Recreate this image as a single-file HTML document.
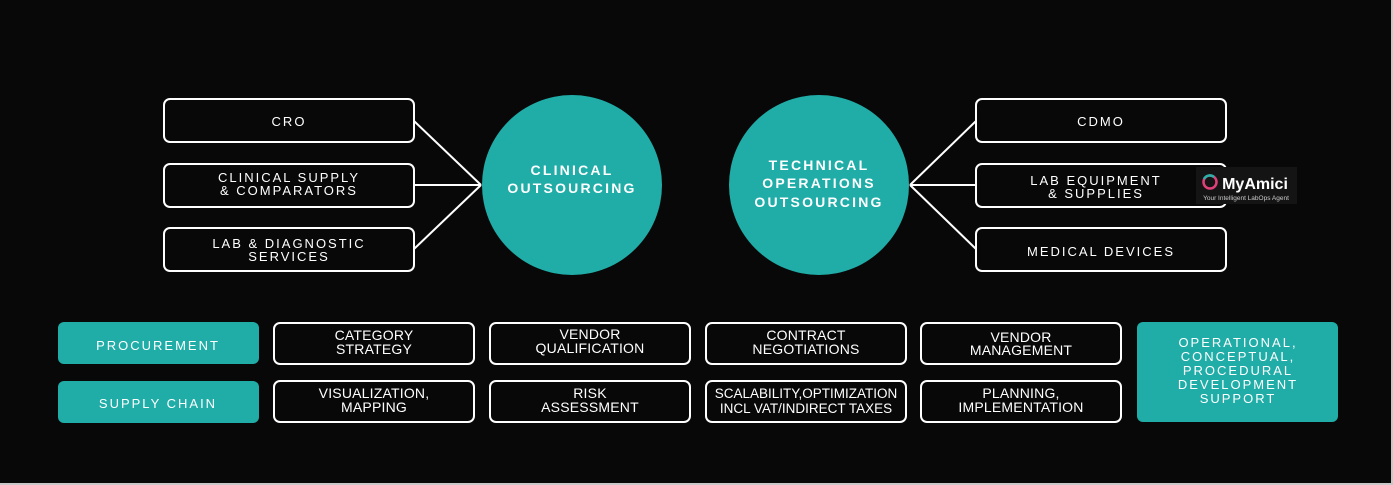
<!DOCTYPE html>
<html><head><meta charset="utf-8"><style>
html,body{margin:0;padding:0;background:#080808}
svg{display:block}
text{font-family:"Liberation Sans",sans-serif;fill:#fff;text-anchor:middle}
.sp{letter-spacing:2px;font-size:13px}
.tl{letter-spacing:2.2px;font-size:14px;font-weight:bold}
.sm{font-size:14px;letter-spacing:0.2px}
</style></head><body>
<svg width="1393" height="485" viewBox="0 0 1393 485">
<rect x="0" y="0" width="1393" height="485" fill="#c8c8c8"/>
<rect x="0" y="0" width="1391" height="483" fill="#080808"/>
<g fill="none" stroke="#fff" stroke-width="2">
<rect x="164" y="99" width="250" height="43" rx="6"/>
<rect x="164" y="164" width="250" height="43" rx="6"/>
<rect x="164" y="228" width="250" height="43" rx="6"/>
<rect x="976" y="99" width="250" height="43" rx="6"/>
<rect x="976" y="164" width="250" height="43" rx="6"/>
<rect x="976" y="228" width="250" height="43" rx="6"/>
<line x1="414" y1="121" x2="481" y2="185"/>
<line x1="414" y1="185" x2="481" y2="185"/>
<line x1="414" y1="249" x2="481" y2="185"/>
<line x1="910" y1="185" x2="976" y2="121"/>
<line x1="910" y1="185" x2="976" y2="185"/>
<line x1="910" y1="185" x2="976" y2="249"/>
<rect x="274" y="323" width="200" height="41" rx="6"/>
<rect x="490" y="323" width="200" height="41" rx="6"/>
<rect x="706" y="323" width="200" height="41" rx="6"/>
<rect x="921" y="323" width="200" height="41" rx="6"/>
<rect x="274" y="381" width="200" height="41" rx="6"/>
<rect x="490" y="381" width="200" height="41" rx="6"/>
<rect x="706" y="381" width="200" height="41" rx="6"/>
<rect x="921" y="381" width="200" height="41" rx="6"/>
</g>
<circle cx="572" cy="185" r="90" fill="#20ADA8"/>
<circle cx="819" cy="185" r="90" fill="#20ADA8"/>
<rect x="58" y="322" width="201" height="42" rx="6" fill="#20ADA8"/>
<rect x="58" y="381" width="201" height="42" rx="6" fill="#20ADA8"/>
<rect x="1137" y="322" width="201" height="100" rx="6" fill="#20ADA8"/>
<text class="sp" x="289" y="126">CRO</text>
<text class="sp" x="289" y="182">CLINICAL SUPPLY</text>
<text class="sp" x="289" y="195">&amp; COMPARATORS</text>
<text class="sp" x="289" y="248">LAB &amp; DIAGNOSTIC</text>
<text class="sp" x="289" y="261">SERVICES</text>
<text class="sp" x="1101" y="126">CDMO</text>
<text class="sp" x="1096" y="185">LAB EQUIPMENT</text>
<text class="sp" x="1096" y="198">&amp; SUPPLIES</text>
<text class="sp" x="1101" y="256">MEDICAL DEVICES</text>
<text class="tl" x="572" y="175">CLINICAL</text>
<text class="tl" x="572" y="193">OUTSOURCING</text>
<text class="tl" x="819" y="170">TECHNICAL</text>
<text class="tl" x="819" y="188">OPERATIONS</text>
<text class="tl" x="819" y="207">OUTSOURCING</text>
<text class="sp" x="158" y="350">PROCUREMENT</text>
<text class="sp" x="158" y="408">SUPPLY CHAIN</text>
<text class="sp" x="1238" y="347">OPERATIONAL,</text>
<text class="sp" x="1238" y="361">CONCEPTUAL,</text>
<text class="sp" x="1238" y="375">PROCEDURAL</text>
<text class="sp" x="1238" y="389">DEVELOPMENT</text>
<text class="sp" x="1238" y="403">SUPPORT</text>
<text class="sm" x="374" y="340">CATEGORY</text>
<text class="sm" x="374" y="354">STRATEGY</text>
<text class="sm" x="590" y="339">VENDOR</text>
<text class="sm" x="590" y="353">QUALIFICATION</text>
<text class="sm" x="806" y="340">CONTRACT</text>
<text class="sm" x="806" y="354">NEGOTIATIONS</text>
<text class="sm" x="1021" y="342">VENDOR</text>
<text class="sm" x="1021" y="355">MANAGEMENT</text>
<text class="sm" x="374" y="398">VISUALIZATION,</text>
<text class="sm" x="374" y="412">MAPPING</text>
<text class="sm" x="590" y="398">RISK</text>
<text class="sm" x="590" y="412">ASSESSMENT</text>
<text class="sm" x="806" y="398" style="font-size:13.5px;letter-spacing:0">SCALABILITY,OPTIMIZATION</text>
<text class="sm" x="806" y="413" style="font-size:13.5px;letter-spacing:0">INCL VAT/INDIRECT TAXES</text>
<text class="sm" x="1021" y="398">PLANNING,</text>
<text class="sm" x="1021" y="412">IMPLEMENTATION</text>
<rect x="1196" y="167" width="101" height="37" fill="#141414"/>
<circle cx="1210" cy="182" r="6.5" fill="none" stroke="#e0407a" stroke-width="2.5"/>
<path d="M1204 179 A6.5 6.5 0 0 1 1214 177" fill="none" stroke="#2ab0a8" stroke-width="2.5"/>
<text x="1255" y="189" style="font-size:16px;font-weight:bold">MyAmici</text>
<text x="1246" y="200" style="font-size:6.5px;fill:#ccc">Your Intelligent LabOps Agent</text>
</svg>
</body></html>
